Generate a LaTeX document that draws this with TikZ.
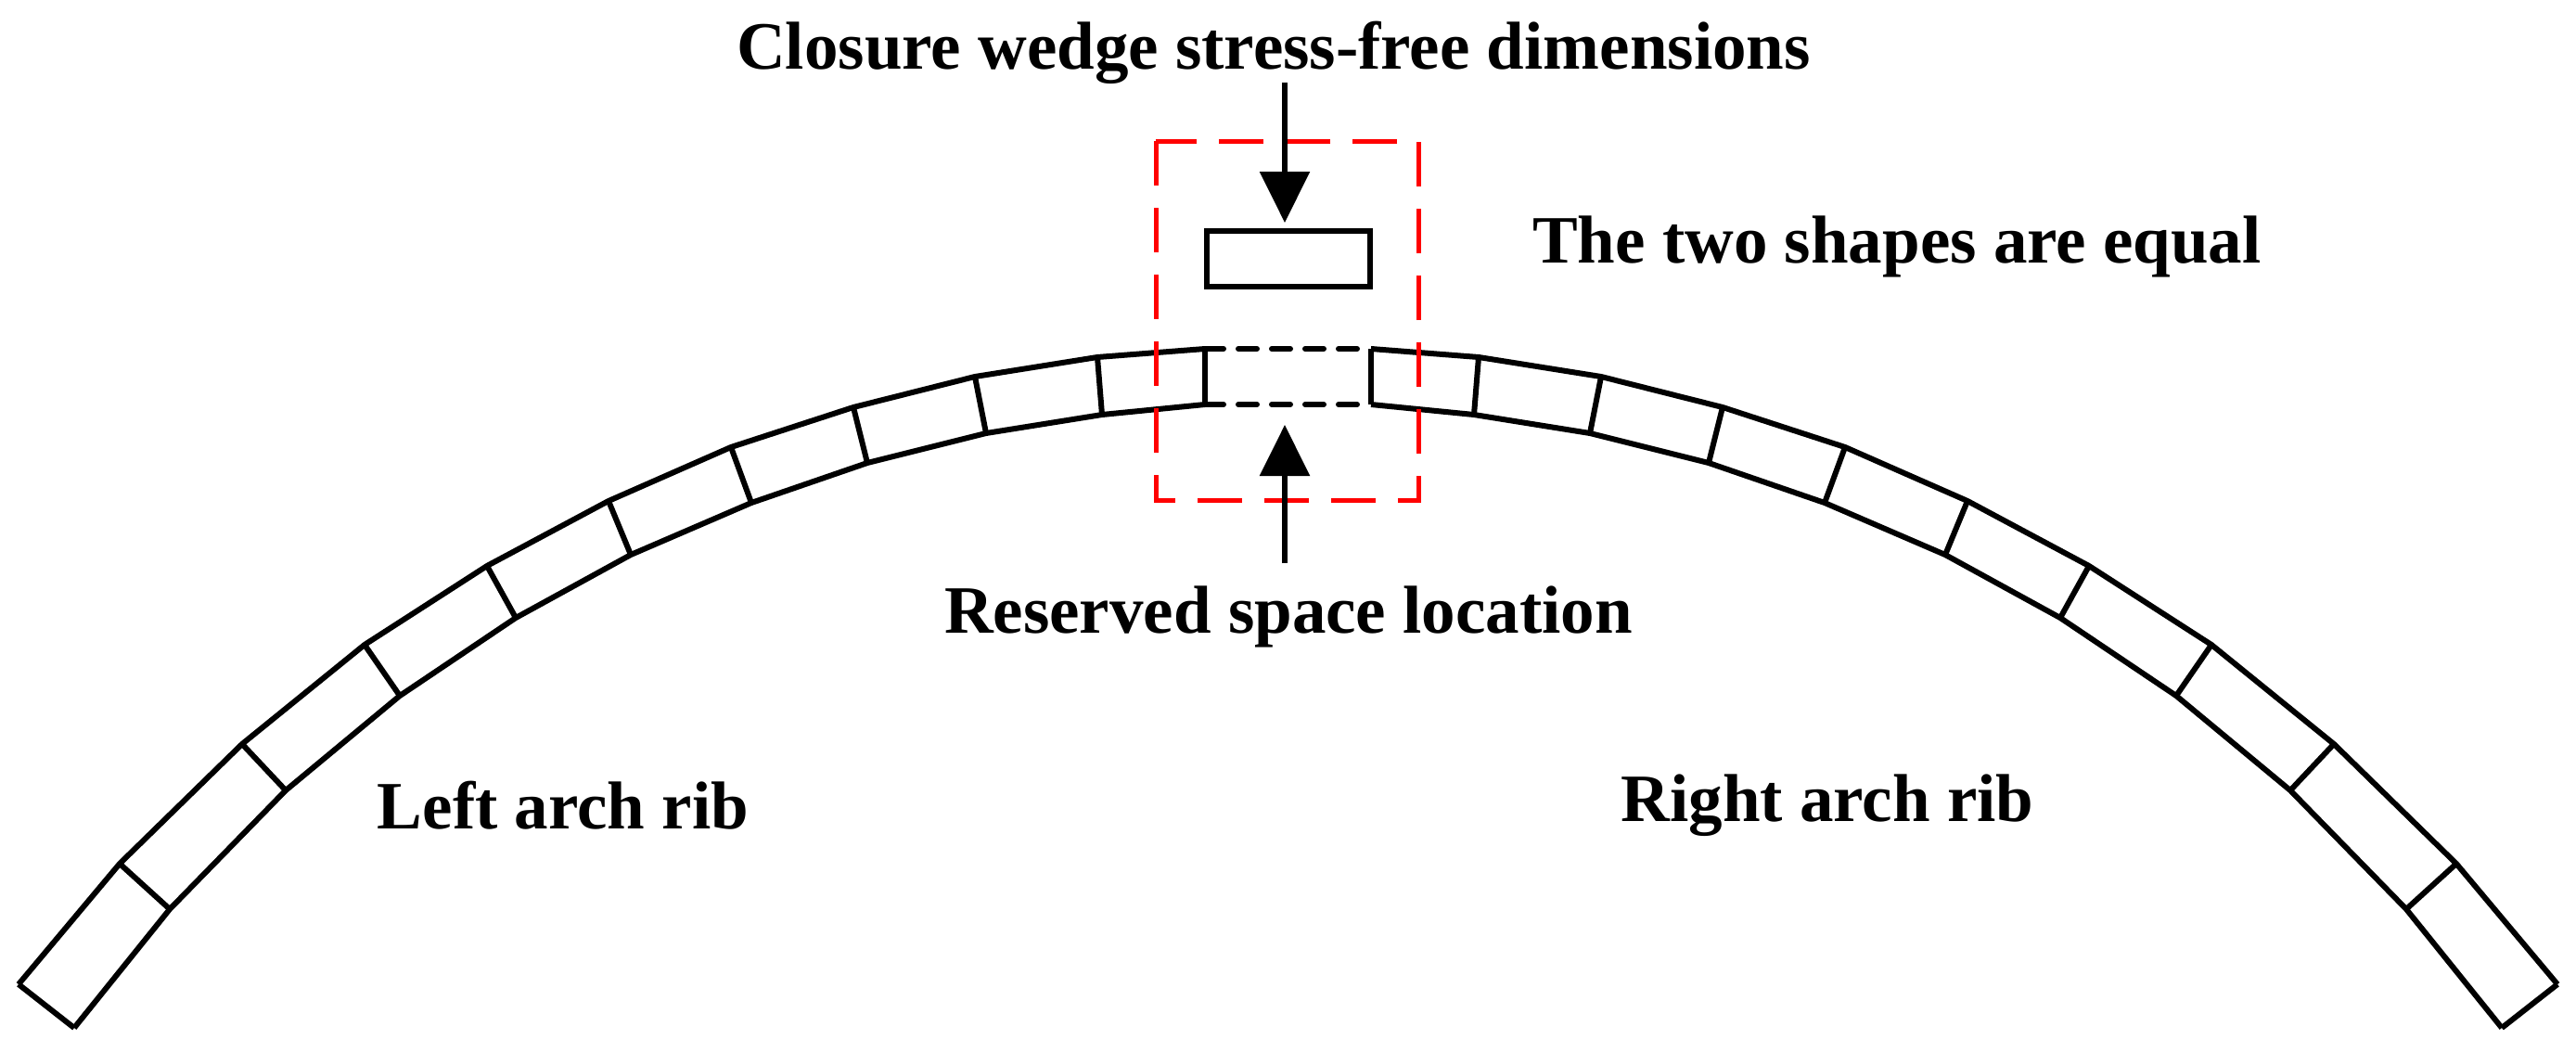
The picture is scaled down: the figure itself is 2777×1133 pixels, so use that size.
\documentclass[tikz,border=0pt]{standalone}
\usepackage{fontspec}
\setmainfont{Liberation Serif}
\usetikzlibrary{arrows.meta}
\begin{document}
\begin{tikzpicture}[x=1pt,y=-1pt,
  rib/.style={line width=6pt,line join=miter},
  lbl/.style={font=\fontsize{73}{73}\selectfont\bfseries,inner sep=0pt},
  arr/.style={line width=6pt,-{Triangle[width=53pt,length=55pt]}},
  red box/.style={draw=red,line width=5pt,dash pattern=on 48pt off 24pt}]
\useasboundingbox (0,0) rectangle (2777,1133);
\foreach \i/\ox/\oy/\ix/\iy in {0/20/1061/80/1108,1/129/931/183/980,2/261/802/308/852,3/393/695/431/750,4/525/610/556/666,5/656/540/680/598,6/788/482/810/542,7/920/439/935/499,8/1051/406/1063/467,9/1183/385/1188/447,10/1299/376/1299/436}{
  \coordinate (lo\i) at (\ox,\oy); \coordinate (li\i) at (\ix,\iy);
  \coordinate (ro\i) at (2777-\ox,\oy); \coordinate (ri\i) at (2777-\ix,\iy);
  \draw[rib] (lo\i) -- (li\i); \draw[rib] (ro\i) -- (ri\i);}
\draw[rib] (lo0)--(lo1)--(lo2)--(lo3)--(lo4)--(lo5)--(lo6)--(lo7)--(lo8)--(lo9)--(lo10);
\draw[rib] (li0)--(li1)--(li2)--(li3)--(li4)--(li5)--(li6)--(li7)--(li8)--(li9)--(li10);
\draw[rib] (ro0)--(ro1)--(ro2)--(ro3)--(ro4)--(ro5)--(ro6)--(ro7)--(ro8)--(ro9)--(ro10);
\draw[rib] (ri0)--(ri1)--(ri2)--(ri3)--(ri4)--(ri5)--(ri6)--(ri7)--(ri8)--(ri9)--(ri10);
% reserved gap
\draw[line width=6pt,line cap=round,dash pattern=on 20pt off 16pt] (lo10) -- (ro10) (li10) -- (ri10);
% wedge
\node[draw,line width=6pt,minimum width=176pt,minimum height=60pt,inner sep=0pt] (wedge) at (1389,279) {};
% red box
\draw[red box] (1246,152) rectangle (1529,539);
% texts
\node[lbl] (ctext) at (1373,57) {Closure wedge stress-free dimensions};
\node[lbl] (eq) at (2045,266) {The two shapes are equal};
\node[lbl] (res) at (1389,665) {Reserved space location};
\node[lbl] (left) at (607,868) {Left arch rib};
\node[lbl] (right) at (1970,868) {Right arch rib};
% arrows
\coordinate (a1s) at (1385,89); \coordinate (a1e) at (1385,240);
\coordinate (a2s) at (1385,607); \coordinate (a2e) at (1385,458);
\draw[arr] (a1s) -- (a1e);
\draw[arr] (a2s) -- (a2e);
\end{tikzpicture}
\end{document}
